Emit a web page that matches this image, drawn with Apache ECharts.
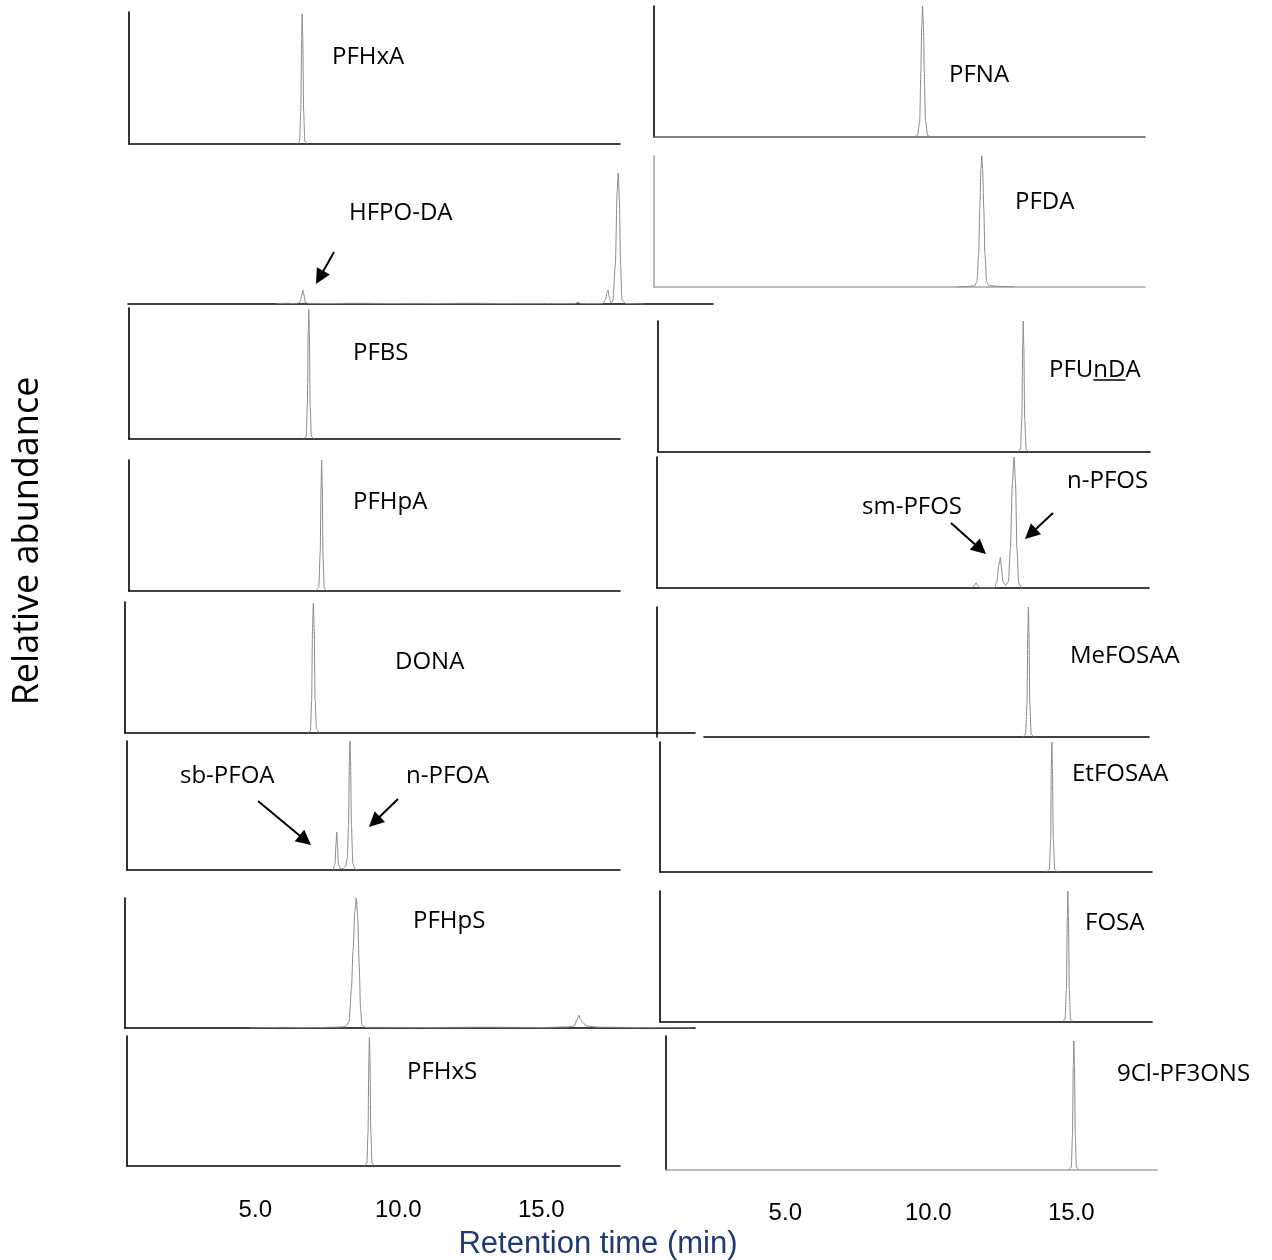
<!DOCTYPE html>
<html><head><meta charset="utf-8">
<script src="https://cdn.jsdelivr.net/npm/echarts@6/dist/echarts.min.js"></script>
<style>html,body{margin:0;padding:0;background:#fff}#c{width:1272px;height:1260px}</style>
</head><body><div id="c"></div>
<script>
// ---------------- DATA (retention time in min, relative abundance) ----------------
const pfhxa   = [[6.46,0],[6.55,0.02],[6.59,0.25],[6.62,0.8],[6.64,0.985],[6.66,0.8],[6.69,0.25],[6.73,0.02],[6.82,0]];
const hfpoDa  = [[5.70,0],[6.10,0.006],[6.40,0.002],[6.55,0.01],[6.62,0.06],[6.66,0.105],[6.70,0.07],[6.75,0.01],[6.90,0.003],[8.5,0.005],[10.5,0.003],[12.5,0.005],[14.5,0.003],[16.20,0.004],[16.28,0.015],[16.36,0.004],[17.15,0.003],[17.24,0.03],[17.30,0.09],[17.33,0.105],[17.37,0.06],[17.43,0.01],[17.50,0.02],[17.59,0.3],[17.65,0.85],[17.69,1.0],[17.73,0.8],[17.77,0.3],[17.82,0.03],[17.95,0.004],[18.6,0]];
const pfbs    = [[6.69,0],[6.78,0.02],[6.82,0.25],[6.85,0.8],[6.87,0.99],[6.89,0.8],[6.92,0.25],[6.96,0.02],[7.05,0]];
const pfhpa   = [[7.10,0],[7.17,0.02],[7.22,0.03],[7.27,0.3],[7.30,0.8],[7.32,1.0],[7.34,0.8],[7.37,0.25],[7.41,0.02],[7.50,0]];
const dona    = [[6.84,0],[6.93,0.02],[6.97,0.25],[7.00,0.8],[7.03,0.99],[7.06,0.8],[7.09,0.25],[7.14,0.03],[7.24,0]];
const pfoa    = [[7.72,0],[7.79,0.05],[7.82,0.2],[7.85,0.295],[7.87,0.2],[7.91,0.04],[7.98,0.01],[8.08,0.01],[8.16,0.03],[8.22,0.1],[8.26,0.35],[8.29,0.85],[8.31,1.0],[8.33,0.85],[8.36,0.35],[8.41,0.05],[8.48,0.01],[8.56,0]];
const pfhps   = [[4.80,0],[6.00,0.005],[7.00,0.003],[7.80,0.006],[8.16,0.01],[8.28,0.05],[8.36,0.3],[8.42,0.6],[8.48,0.9],[8.53,1.0],[8.58,0.85],[8.63,0.5],[8.68,0.15],[8.73,0.02],[8.85,0.005],[11.0,0.004],[13.0,0.006],[15.0,0.004],[15.95,0.008],[16.15,0.015],[16.24,0.06],[16.31,0.098],[16.36,0.07],[16.45,0.04],[16.6,0.015],[17.0,0.006],[18.5,0.004],[20.3,0]];
const pfhxs   = [[8.80,0],[8.90,0.02],[8.94,0.25],[8.97,0.8],[8.99,0.99],[9.01,0.8],[9.04,0.25],[9.08,0.02],[9.18,0]];
const pfna    = [[9.50,0],[9.62,0.01],[9.70,0.12],[9.74,0.5],[9.77,0.85],[9.80,1.0],[9.83,0.85],[9.86,0.5],[9.90,0.12],[9.98,0.01],[10.12,0]];
const pfda    = [[11.00,0],[11.40,0.004],[11.62,0.01],[11.70,0.04],[11.76,0.25],[11.80,0.6],[11.84,0.9],[11.87,1.0],[11.90,0.9],[11.94,0.6],[11.98,0.25],[12.04,0.04],[12.12,0.01],[12.60,0.004],[13.00,0]];
const pfunda  = [[13.12,0],[13.22,0.02],[13.27,0.25],[13.30,0.8],[13.32,1.0],[13.34,0.8],[13.37,0.25],[13.42,0.02],[13.52,0]];
const pfos    = [[11.50,0],[11.60,0.015],[11.67,0.04],[11.74,0.015],[11.82,0],[12.32,0],[12.40,0.05],[12.46,0.17],[12.50,0.21],[12.52,0.235],[12.55,0.17],[12.61,0.05],[12.70,0.02],[12.80,0.05],[12.87,0.3],[12.94,0.8],[13.00,1.0],[13.05,0.8],[13.10,0.3],[13.16,0.04],[13.25,0]];
const mefosaa = [[13.30,0],[13.40,0.02],[13.45,0.25],[13.48,0.8],[13.50,1.0],[13.52,0.8],[13.55,0.25],[13.60,0.02],[13.70,0]];
const etfosaa = [[14.13,0],[14.23,0.02],[14.28,0.25],[14.30,0.8],[14.32,1.0],[14.34,0.8],[14.37,0.25],[14.42,0.02],[14.52,0]];
const fosa    = [[14.68,0],[14.78,0.02],[14.83,0.25],[14.86,0.8],[14.88,1.0],[14.90,0.8],[14.93,0.25],[14.97,0.02],[15.08,0]];
const cl9pf3ons = [[14.90,0],[15.00,0.02],[15.04,0.25],[15.07,0.78],[15.09,0.963],[15.11,0.78],[15.14,0.25],[15.18,0.02],[15.28,0]];

const tickValues = [5, 10, 15];
const xTitle = 'Retention time (min)';
const yTitle = 'Relative abundance';

// ---------------- LAYOUT ----------------
const colScale = { L: { x10: 398.3, ppm: 28.6 }, R: { x10: 928.3, ppm: 28.6 } };
const toT = (col, px) => 10 + (px - colScale[col].x10) / colScale[col].ppm;
const BLK = '#000', GRY = '#a6a6a6';

const panels = [
  { data: pfhxa,   col:'L', l:129, r:620, t:12,   b:144 },
  { data: hfpoDa,  col:'L', l:128, r:713, t:173,  b:304, noY:true },
  { data: pfbs,    col:'L', l:129, r:620, t:308,  b:439 },
  { data: pfhpa,   col:'L', l:129, r:620, t:460,  b:591 },
  { data: dona,    col:'L', l:125, r:695, t:602,  b:733 },
  { data: pfoa,    col:'L', l:127, r:620, t:741,  b:870 },
  { data: pfhps,   col:'L', l:125, r:695, t:898,  b:1028 },
  { data: pfhxs,   col:'L', l:127, r:620, t:1036, b:1166 },
  { data: pfna,    col:'R', l:654, r:1145, t:6,   b:137, xc:'#555' },
  { data: pfda,    col:'R', l:654, r:1145, t:156, b:287, xc:GRY, yc:GRY },
  { data: pfunda,  col:'R', l:658, r:1150, t:321, b:452 },
  { data: pfos,    col:'R', l:657, r:1149, t:457, b:588 },
  { data: mefosaa, col:'R', l:704, r:1149, t:607, b:737, yOff:47 },
  { data: etfosaa, col:'R', l:660, r:1152, t:742, b:872 },
  { data: fosa,    col:'R', l:660, r:1152, t:891, b:1022 },
  { data: cl9pf3ons, col:'R', l:666, r:1157, t:1036, b:1170, xc:GRY }
];

const labels = [
  ['PFHxA',332,55],['HFPO-DA',349,211],['PFBS',353,351],['PFHpA',353,500],['DONA',395,660],
  ['sb-PFOA',180,774],['n-PFOA',406,774],['PFHpS',413,919],['PFHxS',407,1070],
  ['PFNA',949,73],['PFDA',1015,200],['sm-PFOS',862,505],['n-PFOS',1067,479],
  ['MeFOSAA',1070,654],['EtFOSAA',1072,772],['FOSA',1085,921],['9Cl-PF3ONS',1117,1072]
];
const arrows = [
  [334,252,316,284],[258,801,311,845],[398,799,369,827],[951,523,986,554],[1053,513,1025,539]
];

const FONT = '"Open Sans", "Noto Sans", sans-serif';
const grid = [], xAxis = [], yAxis = [], series = [];
panels.forEach((p, i) => {
  grid.push({ left: p.l, top: p.t, width: p.r - p.l, height: p.b - p.t, outerBoundsMode: 'none', containLabel: false });
  xAxis.push({ type:'value', gridIndex:i, min: toT(p.col, p.l), max: toT(p.col, p.r),
    axisLine:{ show:true, onZero:false, lineStyle:{ color: p.xc || BLK, width:1.6 } },
    axisTick:{show:false}, axisLabel:{show:false}, splitLine:{show:false} });
  yAxis.push({ type:'value', gridIndex:i, min:0, max:1, offset: p.yOff || 0,
    axisLine:{ show: !p.noY, onZero:false, lineStyle:{ color: p.yc || BLK, width:1.6 } },
    axisTick:{show:false}, axisLabel:{show:false}, splitLine:{show:false} });
  series.push({ type:'line', xAxisIndex:i, yAxisIndex:i, data:p.data, showSymbol:false, symbol:'none',
    smooth:0.25, smoothMonotone:'x', lineStyle:{ color:'#8a8a8a', width:1 }, silent:true, clip:true });
});

// tick-label axes (one per column)
[['L',1196.5],['R',1199.5]].forEach(([col, bottom]) => {
  const i = grid.length;
  const x0 = colScale[col].x10 - 10 * colScale[col].ppm;
  grid.push({ left: x0, top: bottom - 10, width: 20 * colScale[col].ppm, height: 10, outerBoundsMode:'none', containLabel:false });
  xAxis.push({ type:'value', gridIndex:i, min:0, max:20, interval:5,
    axisLine:{show:false}, axisTick:{show:false}, splitLine:{show:false},
    axisLabel:{ show:true, margin:2, fontSize:24, fontFamily:'"Liberation Sans", Arial, sans-serif', color:'#000',
      showMinLabel:false, showMaxLabel:false,
      formatter: v => tickValues.includes(v) ? v.toFixed(1) : '' } });
  yAxis.push({ type:'value', gridIndex:i, show:false });
});

// text & annotations
const graphic = [];
const measure = (() => { const c = document.createElement('canvas').getContext('2d'); return (t, f) => { c.font = f; return c.measureText(t).width; }; })();
const LFONT = '24px ' + FONT;
labels.forEach(([t, x, y]) => {
  graphic.push({ type:'text', x, y: y + 2, style:{ text:t, font:LFONT, fill:'#000', textAlign:'left', textVerticalAlign:'middle', verticalAlign:'middle' } });
});
// PFUnDA with underlined "nD"
(() => {
  const x = 1049, y = 370;
  graphic.push({ type:'text', x, y, style:{ text:'PFUnDA', font:LFONT, fill:'#000', textAlign:'left', textVerticalAlign:'middle', verticalAlign:'middle' } });
  const a = measure('PFU', LFONT), b = measure('PFUnD', LFONT);
  graphic.push({ type:'line', shape:{ x1:x + a, y1:y + 10, x2:x + b, y2:y + 10 }, style:{ stroke:'#000', lineWidth:1.6 } });
})();
arrows.forEach(([x1, y1, x2, y2]) => {
  const L = 15, W = 7.5;
  const dx = x2 - x1, dy = y2 - y1, len = Math.hypot(dx, dy), ux = dx / len, uy = dy / len;
  const bx = x2 - ux * L, by = y2 - uy * L, px = -uy, py = ux;
  graphic.push({ type:'line', shape:{ x1, y1, x2: bx + ux * 2, y2: by + uy * 2 }, style:{ stroke:'#000', lineWidth:2 } });
  graphic.push({ type:'polygon', shape:{ points:[[x2, y2], [bx + px * W, by + py * W], [bx - px * W, by - py * W]] }, style:{ fill:'#000' } });
});
graphic.push({ type:'text', x:598, y:1244, style:{ text:xTitle, font:'31px "Liberation Sans", Arial, sans-serif', fill:'#1f3a70', textAlign:'center', textVerticalAlign:'middle', verticalAlign:'middle' } });
graphic.push({ type:'text', x:28, y:541, rotation:Math.PI / 2, style:{ text:yTitle, font:'36px ' + FONT, fill:'#000', textAlign:'center', textVerticalAlign:'middle', verticalAlign:'middle' } });

const chart = echarts.init(document.getElementById('c'), null, { renderer:'canvas' });
chart.setOption({ animation:false, backgroundColor:'#fff', grid, xAxis, yAxis, series, graphic });
</script></body></html>
